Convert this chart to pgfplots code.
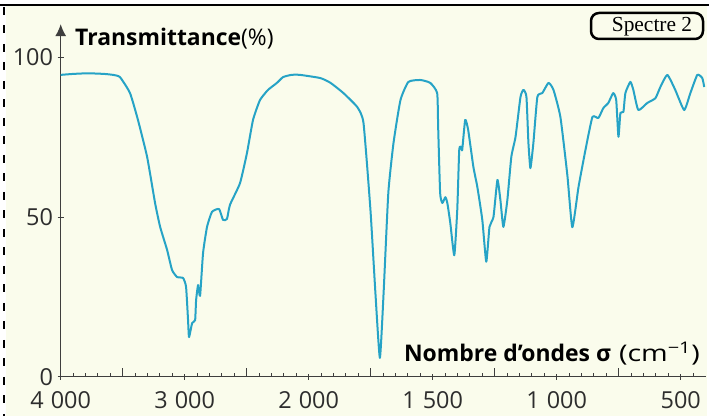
\documentclass[border=0pt]{standalone}
\usepackage{fontspec}
\setmainfont{Open Sans}
\newfontfamily\serifbox{Liberation Serif}
\usepackage{graphicx}
\usepackage{pgfplots}
\pgfplotsset{compat=1.18}
\usetikzlibrary{arrows.meta}

\definecolor{paper}{RGB}{250,252,236}
\definecolor{spectrum}{RGB}{38,163,198}
\definecolor{axisgray}{RGB}{62,62,62}
\definecolor{labelgray}{RGB}{45,45,45}

% IR spectrum: wavenumber (cm^-1) vs transmittance (%)
\pgfplotstableread{
sigma T
4000 94.5
3900 94.8
3780 95.0
3650 94.8
3578 94.5
3522 93.8
3441 88.8
3377 80.4
3303 68.8
3239 54.4
3198 46.9
3142 39.7
3102 33.4
3061 31.2
3013 30.9
2989 28.1
2973 17.7
2965 12.4
2940 16.8
2916 17.7
2908 24.0
2892 28.7
2876 25.3
2852 38.7
2820 46.9
2780 51.6
2723 52.5
2691 49.1
2659 49.4
2635 53.8
2554 60.6
2498 70.0
2449 80.4
2393 86.6
2328 89.8
2256 92.0
2207 93.8
2140 94.5
2070 94.5
1953 93.5
1912 92.0
1860 88.8
1804 84.4
1779 79.4
1751 52.2
1731 26.2
1713 5.9
1698 26.2
1679 57.5
1658 73.2
1630 86.6
1598 92.3
1550 92.9
1510 92.0
1482 88.8
1478 78.2
1470 57.5
1461 54.4
1449 56.2
1441 54.4
1429 48.1
1413 38.0
1401 52.2
1393 71.0
1385 71.9
1381 71.0
1369 80.4
1357 77.3
1336 65.7
1320 59.4
1300 49.1
1284 36.0
1271 46.9
1255 50.0
1239 61.6
1227 55.3
1215 46.9
1199 55.3
1183 68.8
1166 75.1
1146 87.6
1134 89.8
1122 87.6
1114 73.2
1106 65.3
1094 73.2
1078 87.6
1058 88.8
1033 92.0
1013 89.8
985 81.3
957 63.1
937 46.8
912 59.4
884 71.0
856 81.3
832 81.0
812 84.1
792 85.7
772 88.8
760 86.6
751 75.1
743 82.6
731 82.9
723 88.8
703 92.3
691 89.8
671 83.5
635 85.7
602 87.2
582 90.7
554 94.5
522 89.8
486 83.5
461 88.8
433 94.5
413 93.5
405 90.7
}\spectrum

\begin{document}
\begin{tikzpicture}
\useasboundingbox (0bp,0bp) rectangle (718bp,416bp);
\fill[white] (0bp,0bp) rectangle (718bp,416bp);
\fill[paper] (6bp,0bp) rectangle (707bp,410bp);
\draw[black, line width=2.5bp] (0bp,411bp) -- (709bp,411bp);
\draw[black, line width=2.5bp, dash pattern=on 8bp off 10.5bp] (4bp,409bp) -- (4bp,0bp);

\begin{axis}[
  at={(60.7bp,39.3bp)}, anchor=south west,
  scale only axis, width=644.8bp, height=352.6bp,
  % scale break at 2000 cm^-1: the low range is stretched twice
  x coord trafo/.code={\pgfmathparse{#1>1999.99 ? (4000-#1)/1000 : 2+(2000-#1)/500}},
  xmin=4000, xmax=400, ymin=0, ymax=110.4,
  clip=false,
  axis x line=bottom, axis y line=left,
  x axis line style={-, axisgray, line width=1.5bp},
  y axis line style={-{Latex[length=12bp,width=11bp]}, axisgray, line width=1.5bp},
  tick style={axisgray, line width=1bp},
  tick align=inside,
  major tick length=6bp, minor tick length=3.5bp,
  major x tick style={yshift=-3bp},
  y tick style={xshift=-3bp},
  xtick={4000,3000,2000,1500,1000,500},
  xticklabels={4\hspace{0.3em}000,3\hspace{0.3em}000,2\hspace{0.3em}000,1\hspace{0.3em}500,1\hspace{0.3em}000,500},
  minor xtick={3900,3800,3700,3600,3400,3300,3200,3100,2900,2800,2700,2600,2400,2300,2200,2100,
    1950,1900,1850,1800,1700,1650,1600,1550,1450,1400,1350,1300,1200,1150,1100,1050,
    950,900,850,800,700,650,600,550,450},
  extra x ticks={3500,2500,1750,1250,750},
  extra x tick labels={},
  extra x tick style={major tick length=9bp, yshift=3bp},
  ytick={0,50,100},
  yticklabels={0,50,100},
  ticklabel style={font=\fontsize{23.5}{27}\selectfont, text=labelgray},
  xticklabel style={anchor=north, inner sep=0pt, yshift=-15bp},
  yticklabel style={anchor=east, inner sep=0pt, xshift=-7.5bp},
]
\addplot[spectrum, line width=2bp, line join=round, smooth, tension=0.3]
  table[x=sigma, y=T] {\spectrum};
\end{axis}

\node[anchor=base west, inner sep=0pt, text=black, font=\fontsize{23}{26}\selectfont]
  at (75bp,370bp) {\bfseries Transmittance\mdseries(\%)};
\node[anchor=base east, inner sep=0pt, text=black, font=\fontsize{23}{26}\selectfont]
  at (700bp,54bp) {\bfseries Nombre d'ondes σ\hspace{0.35em}\mdseries\scalebox{1.25}[1]{(cm\textsuperscript{−1})}};
\draw[black, line width=2.5bp, rounded corners=8bp] (591bp,377bp) rectangle (703bp,403bp);
\node[anchor=base, inner sep=0pt, font=\serifbox\fontsize{21.5}{24}\selectfont]
  at (652bp,384.3bp) {Spectre 2};
\end{tikzpicture}
\end{document}
